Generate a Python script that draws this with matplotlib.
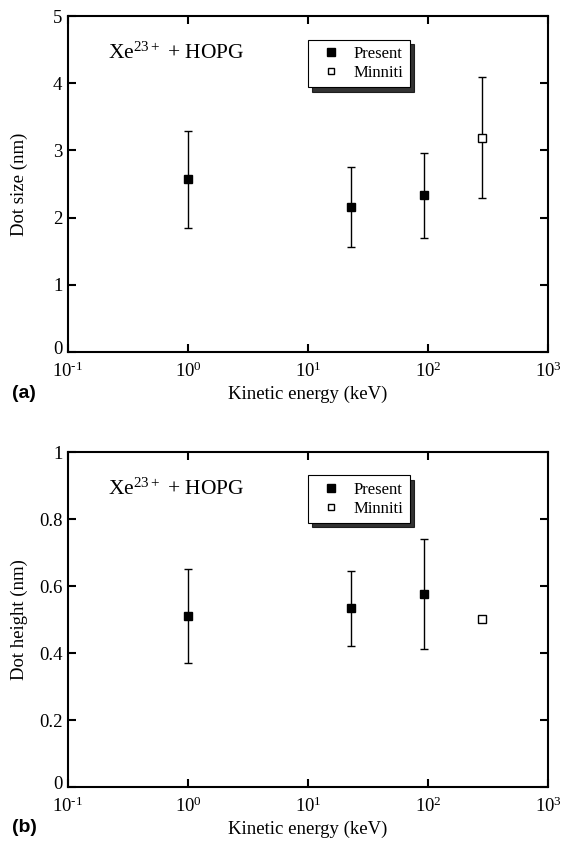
import numpy as np
import matplotlib
matplotlib.use("Agg")
import matplotlib.pyplot as plt
import matplotlib.transforms as mtransforms
from matplotlib.ticker import FuncFormatter, FixedLocator, NullLocator

plt.rcParams['font.family'] = ['Liberation Serif', 'DejaVu Serif']
plt.rcParams['mathtext.fontset'] = 'custom'
plt.rcParams['mathtext.rm'] = 'Liberation Serif'
plt.rcParams['mathtext.it'] = 'Liberation Serif:italic'
plt.rcParams['mathtext.bf'] = 'Liberation Serif:bold'

# data
energy_present = [1, 23, 92]        # keV
energy_minniti = [280]

size_present = [2.57, 2.16, 2.33]   # nm
size_present_err = [0.72, 0.60, 0.63]
size_minniti = [3.19]
size_minniti_err = [0.90]

height_present = [0.511, 0.534, 0.576]
height_present_err = [0.141, 0.112, 0.163]
height_minniti = [0.501]

xticks = [0.1, 1, 10, 100, 1000]
ytick_a = [0, 1, 2, 3, 4, 5]
ytick_b = [0, 0.2, 0.4, 0.6, 0.8, 1]

fig = plt.figure(figsize=(5.71, 8.41), dpi=100)
ax_a = fig.add_axes([0.1191, 0.5814, 0.8406, 0.3995])
ax_b = fig.add_axes([0.1191, 0.0642, 0.8406, 0.3983])


def log_label(v, p):
    e = int(round(np.log10(v)))
    if e < 0:
        return r'$10^{\text{-}%d}$' % (-e)
    return r'$10^{%d}$' % e


def style_axes(ax, yticks, ylabel):
    ax.set_xscale('log')
    ax.set_xlim(xticks[0], xticks[-1])
    ax.set_ylim(yticks[0], yticks[-1])
    ax.set_yticks(yticks)
    ax.yaxis.set_major_formatter(FuncFormatter(lambda v, p: '%g' % v))
    ax.xaxis.set_major_locator(FixedLocator(xticks))
    ax.xaxis.set_major_formatter(FuncFormatter(log_label))
    ax.xaxis.set_minor_locator(NullLocator())
    ax.tick_params(which='major', direction='in', length=6, width=1.5,
                   top=True, right=True, labelsize=13.5, pad=4)
    ax.tick_params(axis='x', pad=7)
    for s in ax.spines.values():
        s.set_linewidth(1.5)
    ax.set_xlabel('Kinetic energy (keV)', fontsize=13.5, labelpad=3)
    ax.set_ylabel(ylabel, fontsize=13.5)
    ax.yaxis.set_label_coords(-0.084, 0.5)
    ax.text(0.083, 0.89, 'Xe$^{23+}$ + HOPG', transform=ax.transAxes,
            fontsize=15.5, va='center', ha='left')
    # the "0" on the y axis sits a little above the corner
    lab0 = ax.yaxis.get_majorticklabels()[0]
    lab0.set_transform(lab0.get_transform() +
                       mtransforms.ScaledTranslation(0, 3 / 72, fig.dpi_scale_trans))


# panel (a)
ax_a.errorbar(energy_present, size_present, yerr=size_present_err, fmt='none',
              ecolor='black', elinewidth=1, capsize=3, capthick=1)
ax_a.errorbar(energy_minniti, size_minniti, yerr=size_minniti_err, fmt='none',
              ecolor='black', elinewidth=1, capsize=3, capthick=1)
ax_a.plot(energy_present, size_present, 's', color='black', ms=6, label='Present')
ax_a.plot(energy_minniti, size_minniti, 's', mfc='white', mec='black', mew=1,
          ms=5.5, label='Minniti')
style_axes(ax_a, ytick_a, 'Dot size (nm)')

# panel (b)
ax_b.errorbar(energy_present, height_present, yerr=height_present_err, fmt='none',
              ecolor='black', elinewidth=1, capsize=3, capthick=1)
ax_b.plot(energy_present, height_present, 's', color='black', ms=6, label='Present')
ax_b.plot(energy_minniti, height_minniti, 's', mfc='white', mec='black', mew=1,
          ms=5.5, label='Minniti')
style_axes(ax_b, ytick_b, 'Dot height (nm)')

for ax in (ax_a, ax_b):
    leg = ax.legend(loc='upper left', bbox_to_anchor=(0.5, 0.93),
                    borderaxespad=0, fancybox=False, frameon=True,
                    shadow={'color': 'black', 'alpha': 0.8, 'ox': 3, 'oy': -3},
                    fontsize=12, handlelength=2.0, handletextpad=0.35,
                    borderpad=0.4, labelspacing=0.15, markerscale=0.9)
    leg.get_frame().set_edgecolor('black')
    leg.get_frame().set_linewidth(0.8)
    leg.get_frame().set_alpha(1)

fig.text(0.021, 1 - 393 / 841, '(a)', fontsize=14, fontweight='bold',
         family='Liberation Sans', va='center', ha='left')
fig.text(0.021, 1 - 828 / 841, '(b)', fontsize=14, fontweight='bold',
         family='Liberation Sans', va='center', ha='left')

plt.savefig('out.png', dpi=100)
